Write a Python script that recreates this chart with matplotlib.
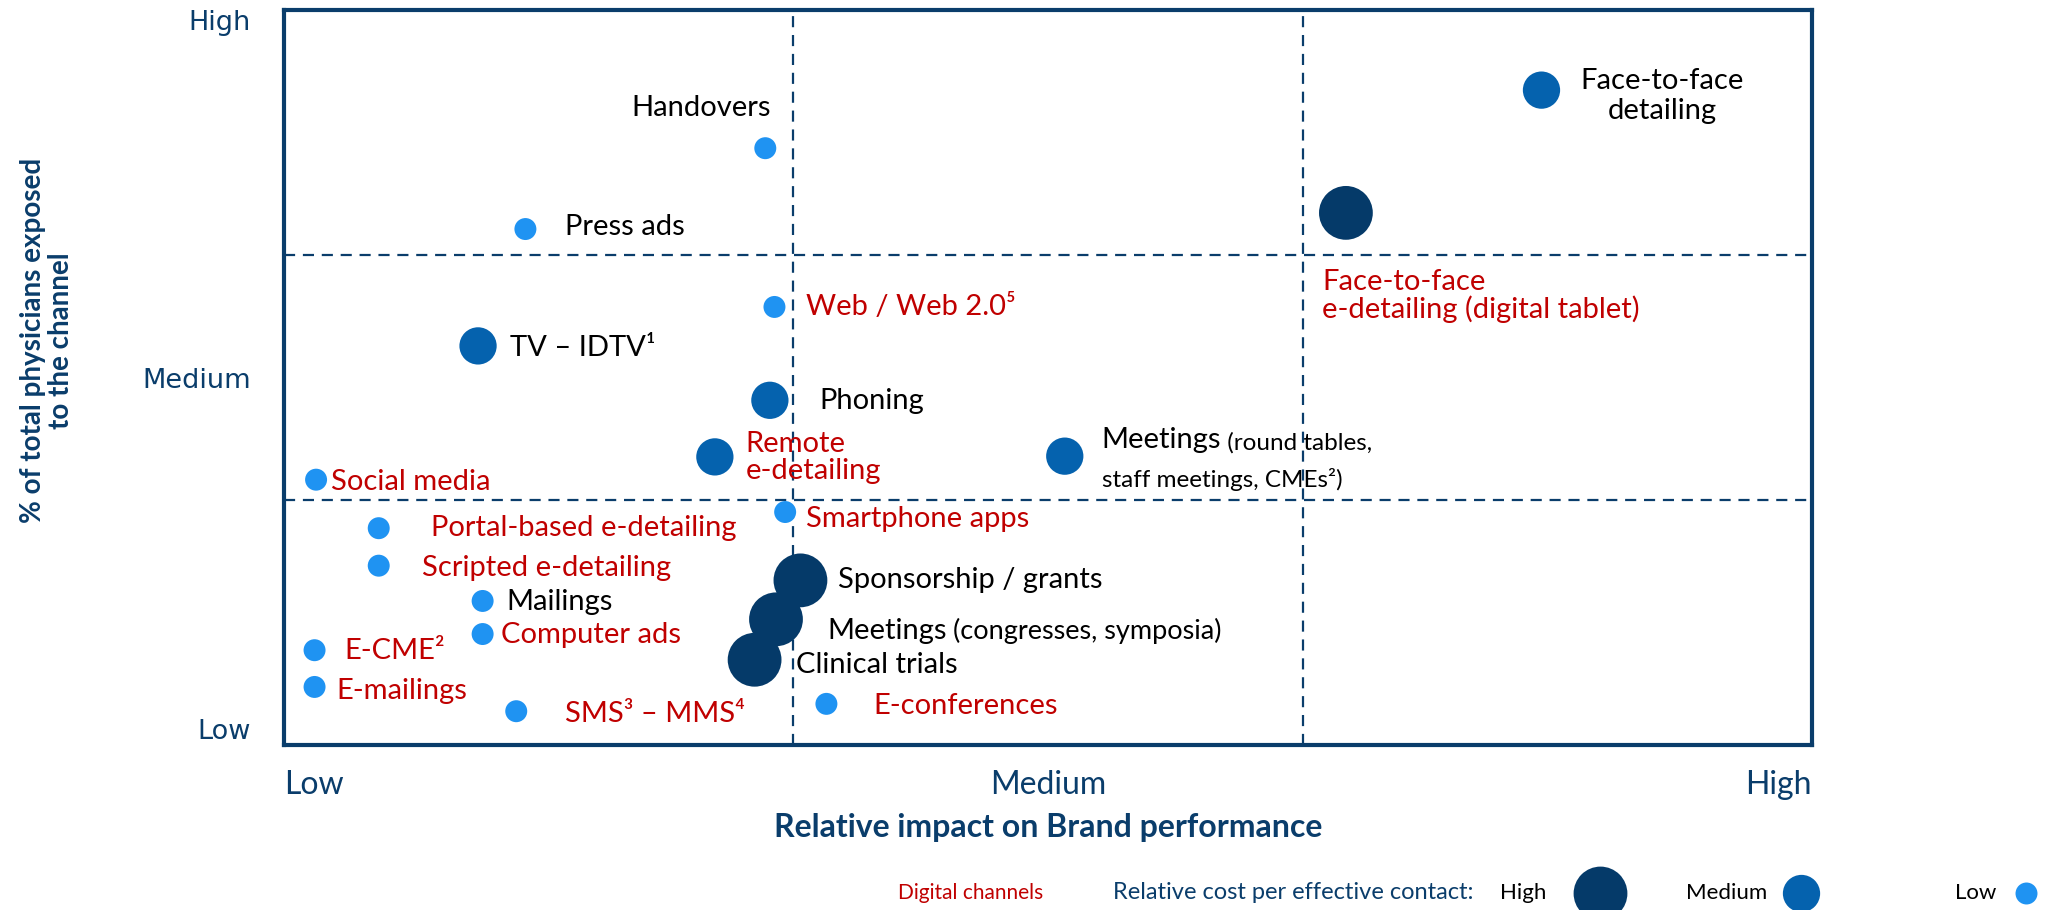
import matplotlib.pyplot as plt

# Channel positioning: relative impact (x, 0-10) vs share of physicians exposed (y, 0-10)
channels = [
    "Face-to-face\ndetailing", "Face-to-face\ne-detailing (digital tablet)",
    "Handovers", "Press ads", "Web / Web 2.0\u2075", "TV \u2013 IDTV\u00b9",
    "Phoning", "Remote\ne-detailing", "Meetings", "Social media",
    "Smartphone apps", "Portal-based e-detailing", "Scripted e-detailing",
    "Sponsorship / grants", "Mailings", "Meetings", "Computer ads",
    "Clinical trials", "E-CME\u00b2", "E-mailings", "SMS\u00b3 \u2013 MMS\u2074",
    "E-conferences",
]
notes = ["", "", "", "", "", "", "", "", " (round tables,\nstaff meetings, CMEs\u00b2)",
         "", "", "", "", "", "", " (congresses, symposia)", "", "", "", "", "", ""]
impact = [8.23, 6.95, 3.15, 1.58, 3.21, 1.27, 3.18, 2.82, 5.11, 0.21, 3.28,
          0.62, 0.62, 3.38, 1.30, 3.22, 1.30, 3.08, 0.20, 0.20, 1.52, 3.55]
exposure = [8.91, 7.24, 8.12, 7.02, 5.96, 5.43, 4.69, 3.92, 3.93, 3.61, 3.17,
            2.95, 2.44, 2.24, 1.96, 1.71, 1.51, 1.16, 1.29, 0.79, 0.46, 0.56]
cost = ["Medium", "High", "Low", "Low", "Low", "Medium", "Medium", "Medium",
        "Medium", "Low", "Low", "Low", "Low", "High", "Low", "High", "Low",
        "High", "Low", "Low", "Low", "Low"]
digital = [False, True, False, False, True, False, False, True, False, True,
           True, True, True, False, False, False, True, False, True, True,
           True, True]
levels = ["Low", "Medium", "High"]

# styling / layout
NAVY = "#0A3D6B"
RED = "#C00000"
cost_color = {"High": "#053A69", "Medium": "#0562AE", "Low": "#1F93F2"}
cost_size = {"High": 1500, "Medium": 720, "Low": 250}
FONT = ["Lato", "DejaVu Sans"]
PX = 72 / 100  # pixel -> point at dpi 100

# label offsets from the marker, in pixels (dx right, dy down), alignment, line spacing
label_pos = [
    (121, 6, "center", 1.2), (-24, 83, "left", 1.0), (-134, -40, "left", 1),
    (40, -2, "left", 1), (32, 0, "left", 1), (32, 2, "left", 1),
    (49, 1, "left", 1), (31, 1, "left", 1.05), (37, -16, "left", 1),
    (15, 2, "left", 1), (21, 7, "left", 1), (52, 0, "left", 1),
    (43, 2, "left", 1), (38, 0, "left", 1), (24, 1, "left", 1),
    (51, 12, "left", 1), (18, 1, "left", 1), (41, 5, "left", 1),
    (30, 1, "left", 1), (22, 4, "left", 1), (49, 3, "left", 1),
    (47, 2, "left", 1),
]
note_size = {8: 17.5, 15: 19.5}

fig = plt.figure(figsize=(20.49, 9.10), dpi=100)
ax = fig.add_axes([0.1386, 0.1813, 0.7457, 0.8077])
ax.set_xlim(0, 10)
ax.set_ylim(0, 10)

for s in ax.spines.values():
    s.set_color(NAVY)
    s.set_linewidth(3)

for v in (10 / 3, 20 / 3):
    ax.axvline(v, color=NAVY, lw=1.6, ls=(0, (5, 3.5)), zorder=1)
    ax.axhline(v, color=NAVY, lw=1.6, ls=(0, (5, 3.5)), zorder=1)

ax.scatter(impact, exposure, s=[cost_size[c] for c in cost],
           c=[cost_color[c] for c in cost], linewidths=0, zorder=3, clip_on=False)

for i, name in enumerate(channels):
    dx, dy, ha, lsp = label_pos[i]
    color = RED if digital[i] else "black"
    t = ax.annotate(name, (impact[i], exposure[i]), xytext=(dx * PX, -dy * PX),
                    textcoords="offset points", ha=ha, va="center", color=color,
                    fontsize=21, family=FONT, linespacing=lsp,
                    multialignment=ha, zorder=4)
    if notes[i]:
        first, *rest = notes[i].split("\n")
        ax.annotate(first, xy=(1, 0), xycoords=t, ha="left", va="bottom",
                    fontsize=note_size[i], family=FONT, color=color)
        for line in rest:
            ax.annotate(line, xy=(0, 0), xycoords=t, xytext=(0, -11),
                        textcoords="offset points", ha="left", va="top",
                        fontsize=note_size[i], family=FONT, color=color)

ax.set_xticks([0, 5, 10], levels)
ax.set_yticks([0, 5, 10], levels)
ax.tick_params(length=0)
ax.tick_params(axis="x", pad=18, labelsize=23, labelcolor=NAVY)
ax.tick_params(axis="y", pad=24, labelsize=19.5, labelcolor=NAVY)
for lab in ax.get_xticklabels():
    lab.set_family(FONT)
xl = ax.get_xticklabels()
xl[0].set_ha("left")
xl[2].set_ha("right")
yl = ax.get_yticklabels()
yl[0].set_va("bottom")
yl[2].set_va("top")

fig.text(0.5115, 0.0912, "Relative impact on Brand performance", ha="center",
         va="center", fontsize=23, fontweight="bold", color=NAVY, family=FONT)
fig.text(0.023, 0.626, "% of total physicians exposed\nto the channel", rotation=90,
         ha="center", va="center", fontsize=20, fontweight="bold", color=NAVY,
         family=FONT, multialignment="center", linespacing=1.1)

# bottom legend
ly = 0.0187
fig.text(0.509, ly, "Digital channels", ha="right", va="center", fontsize=15,
         color=RED, family=FONT)
fig.text(0.543, ly, "Relative cost per effective contact:", ha="left", va="center",
         fontsize=17, color=NAVY, family=FONT)
lax = fig.add_axes([0, 0, 1, 1])
lax.set_xlim(0, 1)
lax.set_ylim(0, 1)
lax.axis("off")
for lvl, tx, cx in zip(["High", "Medium", "Low"], [0.732, 0.823, 0.954],
                       [0.781, 0.879, 0.989]):
    lax.text(tx, ly, lvl, ha="left", va="center", fontsize=16, color="black",
             family=FONT)
    lax.scatter([cx], [ly], s=cost_size[lvl], c=cost_color[lvl], linewidths=0,
                clip_on=False)

fig.savefig("out.png", dpi=100)
